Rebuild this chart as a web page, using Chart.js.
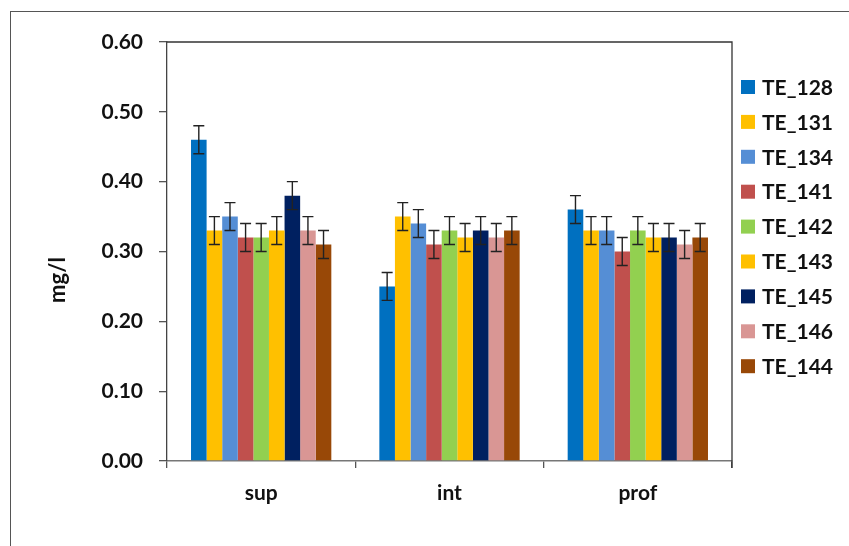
<!DOCTYPE html>
<html>
<head>
<meta charset="utf-8">
<script src="https://cdn.jsdelivr.net/npm/chart.js@4.4.1/dist/chart.umd.min.js"></script>
<style>
  html, body { margin: 0; padding: 0; background: #fff; overflow: hidden; }
  #wrap { position: relative; width: 849px; height: 546px; }
  #frame { position: absolute; left: 10px; top: 11px; width: 900px; height: 600px; border: 1.5px solid #555; box-sizing: border-box; pointer-events: none; }
  canvas { position: absolute; left: 0; top: 0; }
</style>
</head>
<body>
<div id="wrap">
  <canvas id="c" width="849" height="546"></canvas>
  <div id="frame"></div>
</div>
<script>
const categories = ['sup', 'int', 'prof'];
const seriesNames = ['TE_128', 'TE_131', 'TE_134', 'TE_141', 'TE_142', 'TE_143', 'TE_145', 'TE_146', 'TE_144'];
const seriesColors = ['#0070C0', '#FFC000', '#558ED5', '#C0504D', '#92D050', '#FFC000', '#002060', '#D99694', '#984807'];
const TE_128 = [0.46, 0.25, 0.36];
const TE_131 = [0.33, 0.35, 0.33];
const TE_134 = [0.35, 0.34, 0.33];
const TE_141 = [0.32, 0.31, 0.30];
const TE_142 = [0.32, 0.33, 0.33];
const TE_143 = [0.33, 0.32, 0.32];
const TE_145 = [0.38, 0.33, 0.32];
const TE_146 = [0.33, 0.32, 0.31];
const TE_144 = [0.31, 0.33, 0.32];
const errorAmount = [0.02, 0.02, 0.02];
const yTicks = [0, 0.1, 0.2, 0.3, 0.4, 0.5, 0.6];
const yTitle = 'mg/l';

const seriesValues = [TE_128, TE_131, TE_134, TE_141, TE_142, TE_143, TE_145, TE_146, TE_144];

const FONT = 'Lato, "Open Sans", sans-serif';

const datasets = seriesNames.map((name, i) => ({
  label: name,
  data: seriesValues[i],
  backgroundColor: seriesColors[i],
  borderWidth: 0,
  categoryPercentage: 0.745,
  barPercentage: 1.0
}));

const errorBarPlugin = {
  id: 'errorBars',
  afterDatasetsDraw(chart) {
    const ctx = chart.ctx;
    const y = chart.scales.y;
    ctx.save();
    ctx.strokeStyle = '#222';
    ctx.lineWidth = 1.4;
    chart.data.datasets.forEach((ds, di) => {
      const meta = chart.getDatasetMeta(di);
      meta.data.forEach((bar, j) => {
        const v = ds.data[j];
        const e = errorAmount[j];
        const yt = y.getPixelForValue(v + e);
        const yb = y.getPixelForValue(v - e);
        const x = bar.x;
        ctx.beginPath();
        ctx.moveTo(x, yt); ctx.lineTo(x, yb);
        ctx.moveTo(x - 5.5, yt); ctx.lineTo(x + 5.5, yt);
        ctx.moveTo(x - 5.5, yb); ctx.lineTo(x + 5.5, yb);
        ctx.stroke();
      });
    });
    ctx.restore();
  }
};

const decorPlugin = {
  id: 'decor',
  afterDraw(chart) {
    const ctx = chart.ctx;
    const a = chart.chartArea;
    ctx.save();
    ctx.strokeStyle = '#333';
    ctx.lineWidth = 1.3;
    ctx.beginPath();
    ctx.moveTo(a.left, a.top); ctx.lineTo(a.right, a.top);
    ctx.lineTo(a.right, a.bottom + 7);
    ctx.stroke();
    ctx.fillStyle = '#111';
    ctx.font = 'bold 22px ' + FONT;
    ctx.textAlign = 'center';
    ctx.textBaseline = 'middle';
    ctx.translate(58, 280);
    ctx.rotate(-Math.PI / 2);
    ctx.fillText(yTitle, 0, 0);
    ctx.restore();
    ctx.save();
    ctx.font = 'bold 21px ' + FONT;
    ctx.textAlign = 'left';
    ctx.textBaseline = 'middle';
    chart.data.datasets.forEach((ds, i) => {
      const cy = 87 + i * 34.9;
      ctx.fillStyle = ds.backgroundColor;
      ctx.fillRect(741, cy - 7, 14, 14);
      ctx.fillStyle = '#111';
      ctx.fillText(ds.label, 762, cy + 1);
    });
    ctx.restore();
  }
};

new Chart(document.getElementById('c'), {
  type: 'bar',
  data: { labels: categories, datasets },
  options: {
    responsive: false,
    animation: false,
    layout: { padding: { left: 0, right: 117, top: 42, bottom: 0 } },
    plugins: { legend: { display: false }, tooltip: { enabled: false } },
    scales: {
      x: {
        grid: { display: true, drawOnChartArea: false, drawTicks: true, tickLength: 7, color: '#555', offset: true, lineWidth: 1.3 },
        border: { display: true, color: '#777', width: 1.5 },
        ticks: { color: '#111', font: { family: FONT, size: 21, weight: 'bold' }, padding: 13 },
        afterFit(s) { s.height = 546 - 461; }
      },
      y: {
        min: 0, max: 0.6,
        afterBuildTicks(s) { s.ticks = yTicks.map(v => ({ value: v })); },
        grid: { display: true, drawOnChartArea: false, drawTicks: true, tickLength: 8, color: '#555', lineWidth: 1.3 },
        border: { display: true, color: '#444', width: 1.3 },
        ticks: { color: '#111', font: { family: FONT, size: 21, weight: 'bold' }, padding: 16, callback: v => Number(v).toFixed(2) },
        afterFit(s) { s.width = 167; }
      }
    }
  },
  plugins: [errorBarPlugin, decorPlugin]
});
</script>
</body>
</html>
